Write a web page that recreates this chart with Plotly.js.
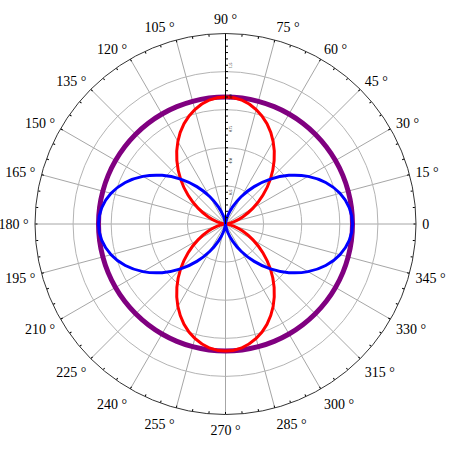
<!DOCTYPE html>
<html>
<head>
<meta charset="utf-8">
<script src="https://cdn.plot.ly/plotly-3.0.1.min.js"></script>
<style>html,body{margin:0;padding:0;background:#fff;}#chart{width:450px;height:451px;}</style>
</head>
<body>
<div id="chart"></div>
<script>
// angles in degrees
const theta = [0,7.5,15,22.5,30,37.5,45,52.5,60,67.5,75,82.5,90,97.5,105,112.5,120,127.5,135,142.5,150,157.5,165,172.5,180,187.5,195,202.5,210,217.5,225,232.5,240,247.5,255,262.5,270,277.5,285,292.5,300,307.5,315,322.5,330,337.5,345,352.5,360];
// purple circle
const rCircle = [1,1,1,1,1,1,1,1,1,1,1,1,1,1,1,1,1,1,1,1,1,1,1,1,1,1,1,1,1,1,1,1,1,1,1,1,1,1,1,1,1,1,1,1,1,1,1,1,1];
// blue (horizontal lobes)
const rBlue = [1,0.983,0.933,0.854,0.75,0.629,0.5,0.371,0.25,0.146,0.067,0.017,0,
  0.017,0.067,0.146,0.25,0.371,0.5,0.629,0.75,0.854,0.933,0.983,1,
  0.983,0.933,0.854,0.75,0.629,0.5,0.371,0.25,0.146,0.067,0.017,0,
  0.017,0.067,0.146,0.25,0.371,0.5,0.629,0.75,0.854,0.933,0.983,1];
// red (vertical lobes)
const rRed = [0,0.017,0.067,0.146,0.25,0.371,0.5,0.629,0.75,0.854,0.933,0.983,1,
  0.983,0.933,0.854,0.75,0.629,0.5,0.371,0.25,0.146,0.067,0.017,0,
  0.017,0.067,0.146,0.25,0.371,0.5,0.629,0.75,0.854,0.933,0.983,1,
  0.983,0.933,0.854,0.75,0.629,0.5,0.371,0.25,0.146,0.067,0.017,0];
// angular tick labels
const angTickVals = [0,15,30,45,60,75,90,105,120,135,150,165,180,195,210,225,240,255,270,285,300,315,330,345];
const angTickText = ["0","15 °","30 °","45 °","60 °","75 °","90 °","105 °","120 °","135 °","150 °","165 °","180 °","195 °","210 °","225 °","240 °","255 °","270 °","285 °","300 °","315 °","330 °","345 °"];
const radGridVals = [0.3,0.6,0.9,1.2];
// radial axis ticks (labels at 0.25 steps, drawn very small)
const radTickVals = [0.05,0.1,0.15,0.2,0.25,0.3,0.35,0.4,0.45,0.5,0.55,0.6,0.65,0.7,0.75,0.8,0.85,0.9,0.95,1,1.05,1.1,1.15,1.2,1.25,1.3,1.35,1.4,1.45];
const radTickText = ["","","","","0.25","","","","","0.50","","","","","0.75","","","","","1.00","","","","","1.25","","","",""];

const traces = [
  {type:'scatterpolar', mode:'lines', r:rCircle, theta:theta, subplot:'polar',
   line:{color:'#800080', width:5, shape:'spline'}, hoverinfo:'skip'},
  {type:'scatterpolar', mode:'lines', r:rRed, theta:theta, subplot:'polar',
   line:{color:'#ff0000', width:3, shape:'spline'}, hoverinfo:'skip'},
  {type:'scatterpolar', mode:'lines', r:rBlue, theta:theta, subplot:'polar',
   line:{color:'#0000ff', width:3, shape:'spline'}, hoverinfo:'skip'},
  {type:'scatterpolar', mode:'lines', r:[], theta:[], subplot:'polar2', hoverinfo:'skip'}
];

const layout = {
  width:450, height:451,
  margin:{l:35, r:34, t:33, b:36},
  paper_bgcolor:'#ffffff',
  showlegend:false,
  polar:{
    domain:{x:[0,1], y:[0,1]},
    bgcolor:'#ffffff',
    angularaxis:{
      rotation:0, direction:'counterclockwise',
      tickvals:angTickVals, ticktext:angTickText,
      tickfont:{family:'Liberation Serif', size:14, color:'#000'},
      showline:true, linecolor:'#333', linewidth:1,
      showgrid:true, gridcolor:'#a6a6a6', gridwidth:1,
      ticks:'outside', ticklen:3, tickcolor:'rgba(0,0,0,0)'
    },
    radialaxis:{
      range:[0,1.5], tickvals:radGridVals,
      showgrid:true, gridcolor:'#b4b4b4', gridwidth:1,
      showline:false, showticklabels:false, ticks:''
    }
  },
  polar2:{
    domain:{x:[0,1], y:[0,1]},
    bgcolor:'rgba(0,0,0,0)',
    angularaxis:{
      rotation:0, direction:'counterclockwise',
      dtick:5, showticklabels:false, showgrid:false, showline:false,
      ticks:'inside', ticklen:2, tickcolor:'#000'
    },
    radialaxis:{
      range:[0,1.5], angle:90, side:'clockwise',
      showline:true, linecolor:'#000', linewidth:1,
      showgrid:false, ticks:'outside', ticklen:2, tickcolor:'#000',
      tickvals:radTickVals, ticktext:radTickText, showticklabels:true,
      tickangle:0,
      tickfont:{family:'Liberation Serif', size:3, color:'#000'}
    }
  }
};

Plotly.newPlot('chart', traces, layout, {staticPlot:true, displayModeBar:false});
</script>
</body>
</html>
